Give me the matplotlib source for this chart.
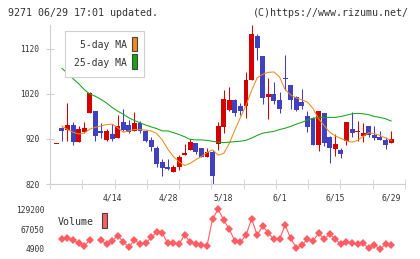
import numpy as np
import matplotlib
matplotlib.use("Agg")
import matplotlib.pyplot as plt
from matplotlib.patches import Rectangle

# daily candles, index 0 = 3/31
opens  = [908, 945, 940, 951, 914, 936, 978, 983, 938, 918, 931, 923, 958, 951, 938, 956,
          938, 918, 900, 868, 858, 847, 857, 885, 896, 910, 899, 881, 890, 909, 947, 984,
          1007, 993, 993, 1050, 1149, 1104, 1014, 1020, 1007, 1056, 1040, 1014, 1003, 971,
          966, 907, 977, 924, 898, 896, 916, 942, 936, 927, 949, 929, 924, 918, 912]
highs  = [908, 947, 1000, 958, 949, 958, 1025, 983, 955, 942, 953, 973, 987, 962, 980, 961,
          939, 925, 904, 876, 876, 862, 884, 908, 921, 911, 901, 901, 896, 958, 1029, 1035,
          1008, 999, 1069, 1174, 1153, 1104, 1056, 1047, 1025, 1107, 1040, 1015, 1031, 983,
          968, 982, 977, 927, 931, 899, 958, 980, 961, 955, 949, 949, 938, 925, 938]
lows   = [908, 916, 916, 907, 914, 933, 978, 916, 923, 916, 916, 923, 938, 934, 937, 933,
          914, 893, 857, 838, 851, 847, 851, 884, 896, 887, 880, 880, 820, 896, 934, 983,
          971, 973, 966, 1050, 1096, 998, 964, 998, 978, 1029, 987, 983, 986, 936,
          907, 894, 904, 867, 882, 878, 907, 925, 916, 914, 924, 917, 917, 898, 911]
closes = [908, 938, 951, 913, 942, 944, 1023, 927, 934, 938, 921, 949, 939, 936, 955, 938,
          916, 903, 865, 855, 853, 858, 881, 889, 914, 892, 881, 891, 838, 949, 1009, 1007,
          978, 983, 1051, 1153, 1123, 1012, 1021, 1005, 987, 1054, 1007, 984, 994, 947,
          907, 982, 912, 899, 909, 887, 958, 934, 938, 933, 929, 922, 918, 907, 920]

nan = np.nan
ma5 = [nan, 949, 941, 935, 931, 933, 942, 946, 949, 952, 953, 945, 935, 938, 941, 941,
       940, 938, 932, 918, 897, 881, 869, 861, 866, 874, 881, 890, 896, 884, 888, 910,
       940, 968, 995, 1028, 1056, 1064, 1068, 1069, 1058, 1030, 1018, 1011, 1007, 1002,
       988, 965, 950, 935, 927, 921, 916, 913, 917, 926, 934, 932, 928, 922, 917]
ma25 = [nan, 1077, 1066, 1054, 1043, 1030, 1020, 1015, 1008, 1000, 990, 982, 975, 967, 961, 956,
        951, 947, 943, 938, 938, 934, 930, 925, 919, 918, 918, 917, 915, 913, 912, 913,
        914, 915, 917, 922, 928, 933, 935, 937, 941, 944, 948, 953, 957, 962,
        966, 968, 968, 968, 968, 970, 973, 976, 977, 976, 974, 970, 968, 965, 960]
volume = [nan, 36200, 38000, 33100, 22700, 15200, 33100, nan, 33100, 19600, 30000, 46600,
          27800, 10200, 33100, 20600, 22700, 41500, 57200, 54000, 22700, 22700, 20600, 48700,
          25900, 20600, 17400, 14300, 98800, 129200, 95700, 66600, 30000, 25900, 48700, 98800,
          48700, 76900, 54000, 35300, 35300, 80000, 38400, 9000, 17400, 35300, 30000, 54000,
          36200, 51900, 36200, 19600, 27800, 22700, 20600, 22700, 7000, 17400, 4900, 19600, 16400]

date_labels = ["4/14", "4/28", "5/18", "6/1", "6/15", "6/29"]
date_pos = [10, 20, 30, 40, 50, 60]
price_ticks = [820, 920, 1020, 1120]
vol_ticks = [4900, 67050, 129200]

RED, BLUE = "#d40000", "#4040c0"
ORANGE, GREEN = "#f08a1c", "#16a516"
VOLC = "#ff5c64"
GRAY = "#d0d0d0"
TXT = "#333333"
MONO = "DejaVu Sans Mono"

W, H = 420, 259
fig = plt.figure(figsize=(W / 100, H / 100), dpi=100)

def box(x0, y0, x1, y1):
    # pixel box (top-left origin) -> figure fraction rect
    return [x0 / W, 1 - y1 / H, (x1 - x0) / W, (y1 - y0) / H]

x = np.arange(len(closes))
xmin, xmax = -1.13, 62.49

ax = fig.add_axes(box(50, 25, 405, 184))
o = np.array(opens); c = np.array(closes)
up = c >= o
cols = np.where(up, RED, BLUE)
ax.vlines(x, lows, highs, colors=cols, lw=0.75, clip_on=False)
bottoms = np.minimum(o, c)
heights = np.maximum(np.abs(c - o), 2.0)
ax.bar(x, heights, bottom=bottoms, width=0.88, color=cols, lw=0, clip_on=False)
ax.plot(x, ma5, color=ORANGE, lw=0.75)
ax.plot(x, ma25, color=GREEN, lw=0.75)

ax.set_xlim(xmin, xmax)
ax.set_ylim(820, 1173.3)
for s in ["top", "right"]:
    ax.spines[s].set_visible(False)
for s in ["left", "bottom"]:
    ax.spines[s].set_color(GRAY)
ax.set_yticks(price_ticks)
ax.set_yticklabels([str(v) for v in price_ticks], family=MONO, fontsize=5.7, color=TXT)
ax.tick_params(axis="y", direction="inout", length=5.8, color=GRAY, pad=4.8)
ax.set_xticks(date_pos)
ax.set_xticklabels(date_labels, family=MONO, fontsize=5.8, color=TXT)
ax.tick_params(axis="x", which="major", length=0, pad=6.5)
ax.set_xticks(np.linspace(xmin, xmax, 12), minor=True)
ax.tick_params(axis="x", which="minor", direction="inout", length=6.5, color=GRAY)

# legend box for the moving averages
fig.add_artist(Rectangle((65 / W, 1 - 77 / H), 79 / W, 46 / H, transform=fig.transFigure,
                         facecolor="white", edgecolor=GRAY, lw=0.8))
fig.text(127 / W, 1 - 45 / H, "5-day MA", ha="right", va="center", family=MONO,
         fontsize=7.0, color=TXT)
fig.text(127 / W, 1 - 63 / H, "25-day MA", ha="right", va="center", family=MONO,
         fontsize=7.0, color=TXT)
for (y0, y1), fc in [((37, 51), ORANGE), ((54, 69), GREEN)]:
    fig.add_artist(Rectangle((131.5 / W, 1 - y1 / H), 5.5 / W, (y1 - y0) / H,
                             transform=fig.transFigure, facecolor=fc, edgecolor="#444444", lw=0.8))

# volume panel
vax = fig.add_axes(box(50, 205, 405, 255))
vax.plot(x, volume, color=VOLC, lw=0.8, marker="D", markersize=4.4, markeredgewidth=0)
vax.set_xlim(xmin, xmax)
vax.set_ylim(4900 - 6 * 3131, 4900 + 44 * 3131)
for s in vax.spines.values():
    s.set_visible(False)
vax.set_xticks([])
vax.set_yticks(vol_ticks)
vax.set_yticklabels([str(v) for v in vol_ticks], family=MONO, fontsize=5.7, color=TXT)
vax.tick_params(axis="y", length=0, pad=4.1)
vax.patch.set_alpha(0)

fig.text(58 / W, 1 - 222 / H, "Volume", ha="left", va="center", family=MONO,
         fontsize=7.2, color=TXT)
fig.add_artist(Rectangle((101.7 / W, 1 - 228.3 / H), 5.6 / W, 15 / H, transform=fig.transFigure,
                         facecolor=VOLC, edgecolor="#444444", lw=0.8))

fig.text(8 / W, 1 - 12.5 / H, "9271 06/29 17:01 updated.", ha="left", va="center",
         family=MONO, fontsize=7.2, color=TXT)
fig.text(409 / W, 1 - 12.5 / H, "(C)https://www.rizumu.net/", ha="right", va="center",
         family=MONO, fontsize=7.2, color=TXT)

fig.savefig("out.png", dpi=100)
